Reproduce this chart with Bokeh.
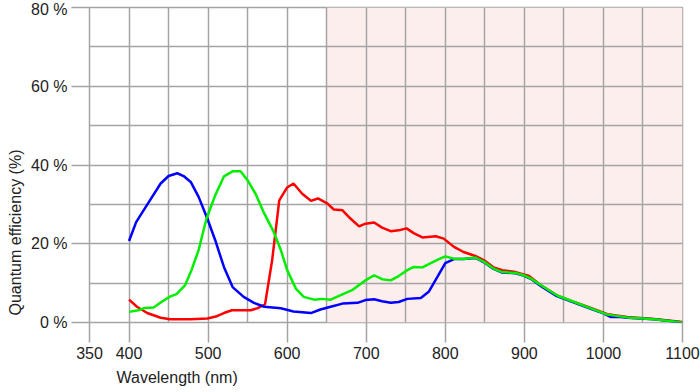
from bokeh.plotting import figure
from bokeh.models import Range1d, FixedTicker, BoxAnnotation, Title
from bokeh.embed import file_html
from bokeh.resources import INLINE

# ---- data ----
red_nm = [400, 410, 423, 440, 452, 478, 499, 511, 520, 530, 541, 554, 562, 572, 581, 590, 600,
          608, 619, 630, 639, 651, 659, 670, 680, 691, 699, 710, 720, 731, 741, 751, 760, 771,
          788, 798, 811, 823, 838, 849, 861, 872, 889, 906, 922, 941, 962, 984, 1005, 1030,
          1064, 1100]
red_qe = [5.8, 4.0, 2.4, 1.2, 0.8, 0.8, 1.0, 1.6, 2.4, 3.1, 3.1, 3.1, 3.6, 4.6, 15.8, 31.0, 34.3,
          35.3, 32.7, 30.9, 31.5, 30.2, 28.7, 28.5, 26.4, 24.4, 25.1, 25.4, 24.1, 23.2, 23.4,
          23.9, 22.7, 21.6, 21.9, 21.3, 19.2, 17.9, 16.9, 15.8, 14.0, 13.3, 12.8, 11.8, 9.3, 6.9,
          5.3, 3.7, 2.1, 1.4, 0.9, 0.1]

green_nm = [400, 412, 420, 431, 441, 451, 460, 471, 479, 488, 498, 509, 520, 531, 541, 550, 560,
            571, 583, 592, 600, 611, 621, 634, 644, 655, 667, 682, 699, 710, 720, 731, 741, 752,
            760, 771, 781, 792, 800, 811, 823, 838, 849, 861, 872, 889, 899, 908, 923, 942, 963,
            984, 1005, 1030, 1064, 1100]
green_qe = [2.7, 3.1, 3.7, 3.8, 5.2, 6.5, 7.2, 9.5, 13.3, 18.4, 26.4, 32.3, 37.1, 38.4, 38.4,
            36.1, 32.7, 27.7, 23.0, 18.4, 13.3, 8.6, 6.5, 5.8, 6.0, 5.8, 6.9, 8.2, 10.7, 12.0,
            11.0, 10.7, 11.8, 13.3, 14.1, 14.0, 15.0, 16.1, 16.8, 16.2, 16.1, 16.5, 15.4, 13.7,
            12.8, 12.6, 12.0, 11.2, 9.2, 6.8, 5.2, 3.6, 2.0, 1.3, 0.8, 0.0]

blue_nm = [400, 409, 421, 440, 450, 461, 469, 478, 488, 499, 509, 520, 531, 545, 558, 571, 592,
           608, 630, 642, 655, 670, 689, 699, 710, 720, 731, 741, 752, 769, 779, 790, 800, 811,
           823, 838, 849, 861, 872, 889, 899, 908, 922, 941, 962, 984, 1000, 1009, 1022, 1030,
           1064, 1100]
blue_qe = [20.7, 25.5, 29.3, 35.3, 37.2, 37.9, 37.2, 35.7, 31.9, 26.4, 20.9, 14.1, 9.0, 6.5,
           5.0, 4.0, 3.6, 2.8, 2.4, 3.3, 4.0, 4.8, 5.0, 5.7, 5.9, 5.4, 5.0, 5.2, 6.0, 6.2, 7.8,
           11.6, 15.1, 16.1, 16.1, 16.4, 15.3, 13.6, 12.7, 12.5, 11.9, 11.1, 9.1, 6.7, 5.1, 3.5,
           2.3, 1.4, 1.4, 1.2, 0.8, 0.0]

x_ticks = [350, 400, 500, 600, 700, 800, 900, 1000, 1100]
x_grid = [350, 400, 450, 500, 550, 600, 650, 700, 750, 800, 850, 900, 950, 1000, 1050, 1100]
y_ticks = [0, 20, 40, 60, 80]
y_tick_labels = ["0 %", "20 %", "40 %", "60 %", "80 %"]
y_grid = [0, 10, 20, 30, 40, 50, 60, 70, 80]
nir_band = (650, 1100)
x_limits = (350, 1100)
y_limits = (0, 80)
x_title = "Wavelength (nm)"
y_title = "Quantum efficiency (%)"

GRID = "#a4a4a4"
TEXT = "#222222"
FONT = "Liberation Sans"
FS = "16px"

p = figure(frame_width=593, frame_height=315,
           x_range=Range1d(*x_limits), y_range=Range1d(*y_limits),
           output_backend="svg", toolbar_location=None,
           min_border_left=89, min_border_right=18, min_border_top=7, min_border_bottom=68)

p.background_fill_color = "white"
p.border_fill_color = "white"
p.outline_line_color = GRID
p.outline_line_width = 1.5

band = BoxAnnotation(left=nir_band[0], right=nir_band[1], fill_color="#fdeeee",
                     fill_alpha=1.0, line_color=None, level="image")
p.add_layout(band)

p.xgrid.ticker = FixedTicker(ticks=x_grid)
p.ygrid.ticker = FixedTicker(ticks=y_grid)
for g in (p.xgrid, p.ygrid):
    g.grid_line_color = GRID
    g.grid_line_width = 1.5
    g.grid_line_alpha = 1.0

p.xaxis.ticker = FixedTicker(ticks=x_ticks)
p.yaxis.ticker = FixedTicker(ticks=y_ticks)
p.yaxis.major_label_overrides = {t: s for t, s in zip(y_ticks, y_tick_labels)}
p.xaxis.major_tick_out = 20
p.yaxis.major_tick_out = 18
for ax in (p.xaxis, p.yaxis):
    ax.axis_line_color = None
    ax.major_tick_in = 0
    ax.minor_tick_line_color = None
    ax.major_tick_line_color = GRID
    ax.major_tick_line_width = 1.5
    ax.major_label_text_font = FONT
    ax.major_label_text_font_size = FS
    ax.major_label_text_color = TEXT
    ax.major_label_standoff = 4

p.line(red_nm, red_qe, line_color="#ff0000", line_width=2.5)
p.line(blue_nm, blue_qe, line_color="#0000ff", line_width=2.5)
p.line(green_nm, green_qe, line_color="#00ee00", line_width=2.5)

p.add_layout(Title(text=x_title, align="left", offset=27, standoff=10,
                   text_font=FONT, text_font_size=FS, text_font_style="normal",
                   text_color=TEXT), "below")
p.add_layout(Title(text=y_title, align="left", offset=7, standoff=9,
                   text_font=FONT, text_font_size=FS, text_font_style="normal",
                   text_color=TEXT), "left")

open("out.html", "w").write(file_html(p, INLINE))
